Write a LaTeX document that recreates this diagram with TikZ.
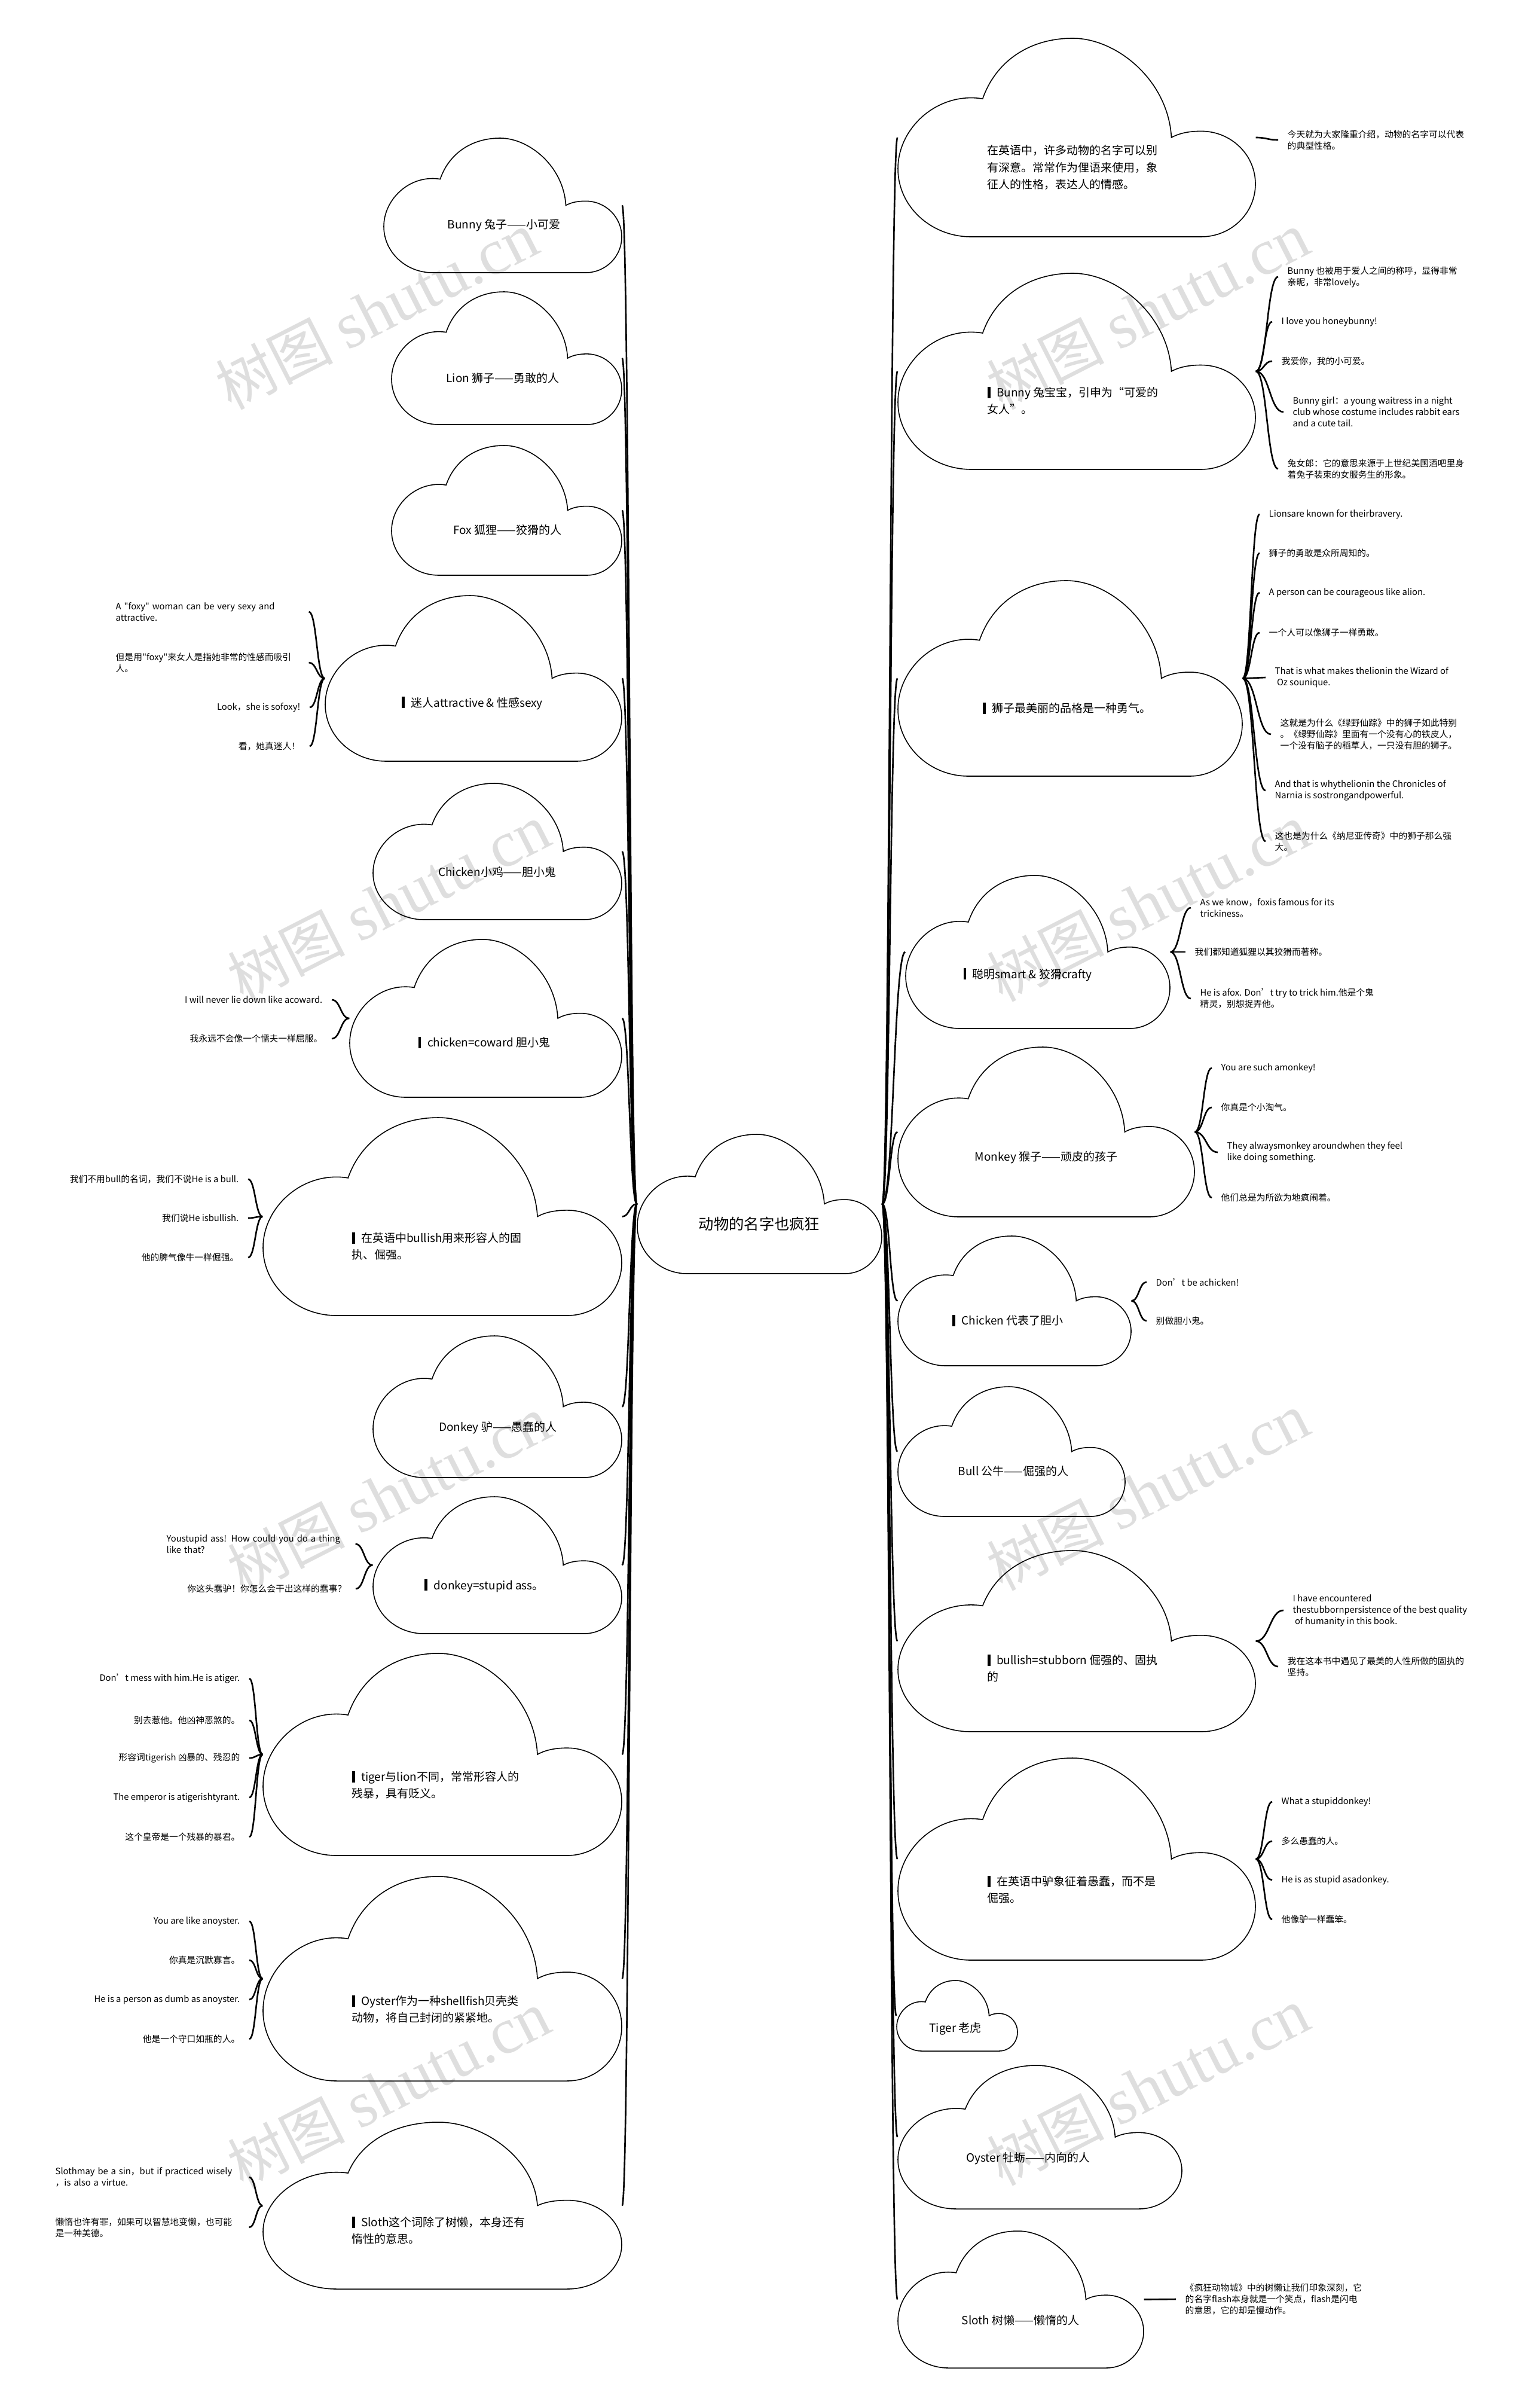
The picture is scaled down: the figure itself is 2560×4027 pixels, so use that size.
\documentclass[tikz,border=0pt]{standalone}
\usepackage{fontspec}
\setmainfont{Noto Sans CJK SC}[Ligatures=TeXOff]
\newfontfamily\wmserif{Liberation Serif}
\usetikzlibrary{calc,fit}
\newcommand\mk{\rule[-0.6pt]{1.4pt}{5.4pt}\hspace{3pt}}
\newcommand\cloudnode[5]{%
  \coordinate (#1-nw) at (#2,#3);
  \coordinate (#1-se) at (#4,#5);
  \node[fit=(#1-nw)(#1-se), inner sep=0pt] (#1) {};
  \begin{scope}[shift={(#2,#5)}, x={(#4-#2,0)}, y={(0,#3-#5)}]
    \draw[cloudline] (0.205,0) .. controls (0.092,0) and (0,0.154) .. (0,0.343)
      .. controls (0,0.53) and (0.092,0.70) .. (0.205,0.70)
      .. controls (0.217,0.70) and (0.228,0.698) .. (0.237,0.695)
      .. controls (0.274,0.886) and (0.369,1) .. (0.489,1)
      .. controls (0.611,1) and (0.756,0.79) .. (0.765,0.50)
      .. controls (0.79,0.525) and (0.82,0.532) .. (0.848,0.532)
      .. controls (0.932,0.532) and (1,0.413) .. (1,0.266)
      .. controls (1,0.119) and (0.932,0) .. (0.848,0) -- cycle;
  \end{scope}}
\newcommand\conn[2]{%
  \coordinate (cA) at (#1);
  \coordinate (cB) at (#2);
  \coordinate (cM) at ($(cA)!0.5!(cB)$);
  \draw[link] (cA) .. controls (cM |- cA) and (cM |- cB) .. (cB);}
\tikzset{
  cloudline/.style={draw=black, line width=0.45pt},
  link/.style={draw=black, line width=0.75pt},
  ctext/.style={inner sep=0pt, font=\fontsize{5.4pt}{8pt}\selectfont, align=left},
  roottext/.style={inner sep=0pt, font=\fontsize{7.2pt}{9pt}\selectfont},
  leafL/.style={inner xsep=0.15cm, inner ysep=0pt, font=\fontsize{4.2pt}{5.4pt}\selectfont, anchor=east, align=right},
  leafM/.style={inner xsep=0.15cm, inner ysep=0pt, font=\fontsize{4.2pt}{5.4pt}\selectfont, anchor=west, align=left},
  leafR/.style={inner xsep=0.15cm, inner ysep=0pt, font=\fontsize{4.2pt}{5.4pt}\selectfont, anchor=west, align=left},
  wm/.style={text=black!13, rotate=27, inner sep=0pt, font=\fontsize{28pt}{28pt}\selectfont}
}
\begin{document}
\begin{tikzpicture}[x=0.01cm,y=-0.01cm]
\useasboundingbox (0,0) rectangle (2560,4027);
% watermarks
\foreach \i/\x/\y in {1/630/520,2/1920/520,3/650/1510,4/1920/1510,5/650/2500,6/1920/2495,7/650/3495,8/1920/3490}
  \node[wm] (wm\i) at (\x,\y) {树图 {\wmserif\fontsize{31pt}{31pt}\selectfont shutu.cn}};

% root
\cloudnode{root}{1066}{1897}{1475}{2130}
\node[roottext] (roott) at (1270,2047) {动物的名字也疯狂};

% left clouds
\cloudnode{l1}{642}{231}{1040}{456}
\node[ctext] (l1t) at (843,377) {Bunny 兔子——小可爱};
\cloudnode{l2}{655}{488}{1040}{710}
\node[ctext] (l2t) at (841,632) {Lion 狮子——勇敢的人};
\cloudnode{l3}{655}{745}{1040}{962}
\node[ctext] (l3t) at (849,886) {Fox 狐狸——狡猾的人};
\cloudnode{l4}{544}{996}{1040}{1273}
\node[ctext] (l4t) at (790,1176) {\mk 迷人attractive \& 性感sexy};
\cloudnode{l5}{624}{1310}{1040}{1538}
\node[ctext] (l5t) at (832,1458) {Chicken小鸡——胆小鬼};
\cloudnode{l6}{585}{1571}{1040}{1835}
\node[ctext] (l6t) at (810,1743) {\mk chicken=coward 胆小鬼};
\cloudnode{l7}{440}{1869}{1040}{2200}
\node[ctext, anchor=west] (l7t) at (588,2084) {\mk 在英语中bullish用来形容人的固\\执、倔强。};
\cloudnode{l8}{624}{2234}{1040}{2471}
\node[ctext] (l8t) at (833,2388) {Donkey 驴——愚蠢的人};
\cloudnode{l9}{624}{2503}{1040}{2732}
\node[ctext] (l9t) at (810,2652) {\mk donkey=stupid ass。};
\cloudnode{l10}{440}{2765}{1040}{3103}
\node[ctext, anchor=west] (l10t) at (588,2985) {\mk tiger与lion不同，常常形容人的\\残暴，具有贬义。};
\cloudnode{l11}{440}{3138}{1040}{3480}
\node[ctext, anchor=west] (l11t) at (588,3360) {\mk Oyster作为一种shellfish贝壳类\\动物，将自己封闭的紧紧地。};
\cloudnode{l12}{440}{3549}{1040}{3828}
\node[ctext, anchor=west] (l12t) at (588,3730) {\mk Sloth这个词除了树懒，本身还有\\惰性的意思。};

% right clouds
\cloudnode{r1}{1502}{64}{2100}{396}
\node[ctext, anchor=west] (r1t) at (1651,280) {在英语中，许多动物的名字可以别\\有深意。常常作为俚语来使用，象\\征人的性格，表达人的情感。};
\cloudnode{r2}{1502}{457}{2100}{785}
\node[ctext, anchor=west] (r2t) at (1651,670) {\mk Bunny 兔宝宝，引申为“可爱的\\女人”。};
\cloudnode{r3}{1502}{971}{2078}{1298}
\node[ctext] (r3t) at (1785,1184) {\mk 狮子最美丽的品格是一种勇气。};
\cloudnode{r4}{1515}{1464}{1957}{1720}
\node[ctext] (r4t) at (1719,1630) {\mk 聪明smart \& 狡猾crafty};
\cloudnode{r5}{1502}{1751}{1998}{2035}
\node[ctext] (r5t) at (1750,1936) {Monkey 猴子——顽皮的孩子};
\cloudnode{r6}{1502}{2067}{1892}{2284}
\node[ctext] (r6t) at (1686,2208) {\mk Chicken 代表了胆小};
\cloudnode{r7}{1502}{2319}{1882}{2536}
\node[ctext] (r7t) at (1695,2460) {Bull 公牛——倔强的人};
\cloudnode{r8}{1502}{2593}{2100}{2896}
\node[ctext, anchor=west] (r8t) at (1651,2790) {\mk bullish=stubborn 倔强的、固执\\的};
\cloudnode{r9}{1502}{2940}{2100}{3278}
\node[ctext, anchor=west] (r9t) at (1651,3160) {\mk 在英语中驴象征着愚蠢，而不是\\倔强。};
\cloudnode{r10}{1500}{3312}{1702}{3430}
\node[ctext] (r10t) at (1598,3393) {Tiger 老虎};
\cloudnode{r11}{1502}{3454}{1977}{3694}
\node[ctext] (r11t) at (1720,3610) {Oyster 牡蛎——内向的人};
\cloudnode{r12}{1502}{3731}{1913}{3960}
\node[ctext] (r12t) at (1707,3880) {Sloth 树懒——懒惰的人};

% main connectors
\foreach \n in {l1,l2,l3,l4,l5,l6,l7,l8,l9,l10,l11,l12} {\conn{root.west}{\n.east}}
\foreach \n in {r1,r2,r3,r4,r5,r6,r7,r8,r9,r10,r11,r12} {\conn{root.east}{\n.west}}

% left leaves
\node[leafM, text width=3.07cm] (l4a) at (178,1023) {A "foxy" woman can be very sexy and\\attractive.};
\node[leafM, text width=3.07cm] (l4b) at (178,1108) {但是用"foxy"来女人是指她非常的性感而吸引\\人。};
\node[leafL] (l4c) at (518,1183) {Look，she is sofoxy!};
\node[leafL] (l4d) at (518,1248) {看，她真迷人！};
\foreach \n in {l4a,l4b,l4c,l4d} {\conn{l4.west}{\n.east}}

\node[leafL] (l6a) at (555,1672) {I will never lie down like acoward.};
\node[leafL] (l6b) at (555,1737) {我永远不会像一个懦夫一样屈服。};
\foreach \n in {l6a,l6b} {\conn{l6.west}{\n.east}}

\node[leafL] (l7a) at (415,1972) {我们不用bull的名词，我们不说He is a bull.};
\node[leafL] (l7b) at (415,2037) {我们说He isbullish.};
\node[leafL] (l7c) at (415,2103) {他的脾气像牛一样倔强。};
\foreach \n in {l7a,l7b,l7c} {\conn{l7.west}{\n.east}}

\node[leafM, text width=3.0cm] (l9a) at (263,2582) {Youstupid ass! How could you do a thing\\like that?};
\node[leafL] (l9b) at (595,2657) {你这头蠢驴！你怎么会干出这样的蠢事？};
\foreach \n in {l9a,l9b} {\conn{l9.west}{\n.east}}

\node[leafL] (l10a) at (417,2807) {Don’t mess with him.He is atiger.};
\node[leafL] (l10b) at (417,2877) {别去惹他。他凶神恶煞的。};
\node[leafL] (l10c) at (417,2940) {形容词tigerish 凶暴的、残忍的};
\node[leafL] (l10d) at (417,3006) {The emperor is atigerishtyrant.};
\node[leafL] (l10e) at (417,3072) {这个皇帝是一个残暴的暴君。};
\foreach \n in {l10a,l10b,l10c,l10d,l10e} {\conn{l10.west}{\n.east}}

\node[leafL] (l11a) at (417,3213) {You are like anoyster.};
\node[leafL] (l11b) at (417,3278) {你真是沉默寡言。};
\node[leafL] (l11c) at (417,3344) {He is a person as dumb as anoyster.};
\node[leafL] (l11d) at (417,3410) {他是一个守口如瓶的人。};
\foreach \n in {l11a,l11b,l11c,l11d} {\conn{l11.west}{\n.east}}

\node[leafM, text width=3.08cm] (l12a) at (77,3641) {Slothmay be a sin，but if practiced wisely\\，is also a virtue.};
\node[leafM, text width=3.08cm] (l12b) at (77,3725) {懒惰也许有罪，如果可以智慧地变懒，也可能\\是一种美德。};
\foreach \n in {l12a,l12b} {\conn{l12.west}{\n.east}}

% right leaves
\node[leafR] (r1a) at (2138,234) {今天就为大家隆重介绍，动物的名字可以代表\\的典型性格。};
\conn{r1.east}{r1a.west}

\node[leafR] (r2a) at (2138,463) {Bunny 也被用于爱人之间的称呼，显得非常\\亲昵，非常lovely。};
\node[leafR] (r2b) at (2128,538) {I love you honeybunny!};
\node[leafR] (r2c) at (2128,604) {我爱你，我的小可爱。};
\node[leafR] (r2d) at (2147,689) {Bunny girl：a young waitress in a night\\club whose costume includes rabbit ears\\and a cute tail.};
\node[leafR] (r2e) at (2138,784) {兔女郎：它的意思来源于上世纪美国酒吧里身\\着兔子装束的女服务生的形象。};
\foreach \n in {r2a,r2b,r2c,r2d,r2e} {\conn{r2.east}{\n.west}}

\node[leafR] (r3a) at (2107,860) {Lionsare known for theirbravery.};
\node[leafR] (r3b) at (2107,925) {狮子的勇敢是众所周知的。};
\node[leafR] (r3c) at (2107,991) {A person can be courageous like alion.};
\node[leafR] (r3d) at (2107,1058) {一个人可以像狮子一样勇敢。};
\node[leafR] (r3e) at (2117,1133) {That is what makes thelionin the Wizard of\\\ Oz sounique.};
\node[leafR] (r3f) at (2126,1228) {这就是为什么《绿野仙踪》中的狮子如此特别\\。《绿野仙踪》里面有一个没有心的铁皮人，\\一个没有脑子的稻草人，一只没有胆的狮子。};
\node[leafR] (r3g) at (2117,1322) {And that is whythelionin the Chronicles of\\Narnia is sostrongandpowerful.};
\node[leafR] (r3h) at (2117,1407) {这也是为什么《纳尼亚传奇》中的狮子那么强\\大。};
\foreach \n in {r3a,r3b,r3c,r3d,r3e,r3f,r3g,r3h} {\conn{r3.east}{\n.west}}

\node[leafR] (r4a) at (1992,1518) {As we know，foxis famous for its\\trickiness。};
\node[leafR] (r4b) at (1983,1592) {我们都知道狐狸以其狡猾而著称。};
\node[leafR] (r4c) at (1992,1670) {He is afox. Don’t try to trick him.他是个鬼\\精灵，别想捉弄他。};
\foreach \n in {r4a,r4b,r4c} {\conn{r4.east}{\n.west}}

\node[leafR] (r5a) at (2027,1786) {You are such amonkey!};
\node[leafR] (r5b) at (2027,1852) {你真是个小淘气。};
\node[leafR] (r5c) at (2037,1927) {They alwaysmonkey aroundwhen they feel\\like doing something.};
\node[leafR] (r5d) at (2027,2003) {他们总是为所欲为地疯闹着。};
\foreach \n in {r5a,r5b,r5c,r5d} {\conn{r5.east}{\n.west}}

\node[leafR] (r6a) at (1918,2144) {Don’t be achicken!};
\node[leafR] (r6b) at (1918,2209) {别做胆小鬼。};
\foreach \n in {r6a,r6b} {\conn{r6.east}{\n.west}}

\node[leafR] (r8a) at (2147,2693) {I have encountered\\thestubbornpersistence of the best quality\\\ of humanity in this book.};
\node[leafR] (r8b) at (2138,2787) {我在这本书中遇见了最美的人性所做的固执的\\坚持。};
\foreach \n in {r8a,r8b} {\conn{r8.east}{\n.west}}

\node[leafR] (r9a) at (2128,3013) {What a stupiddonkey!};
\node[leafR] (r9b) at (2128,3079) {多么愚蠢的人。};
\node[leafR] (r9c) at (2128,3144) {He is as stupid asadonkey.};
\node[leafR] (r9d) at (2128,3210) {他像驴一样蠢笨。};
\foreach \n in {r9a,r9b,r9c,r9d} {\conn{r9.east}{\n.west}}

\node[leafR] (r12a) at (1967,3845) {《疯狂动物城》中的树懒让我们印象深刻，它\\的名字flash本身就是一个笑点，flash是闪电\\的意思，它的却是慢动作。};
\conn{r12.east}{r12a.west}
\end{tikzpicture}
\end{document}
